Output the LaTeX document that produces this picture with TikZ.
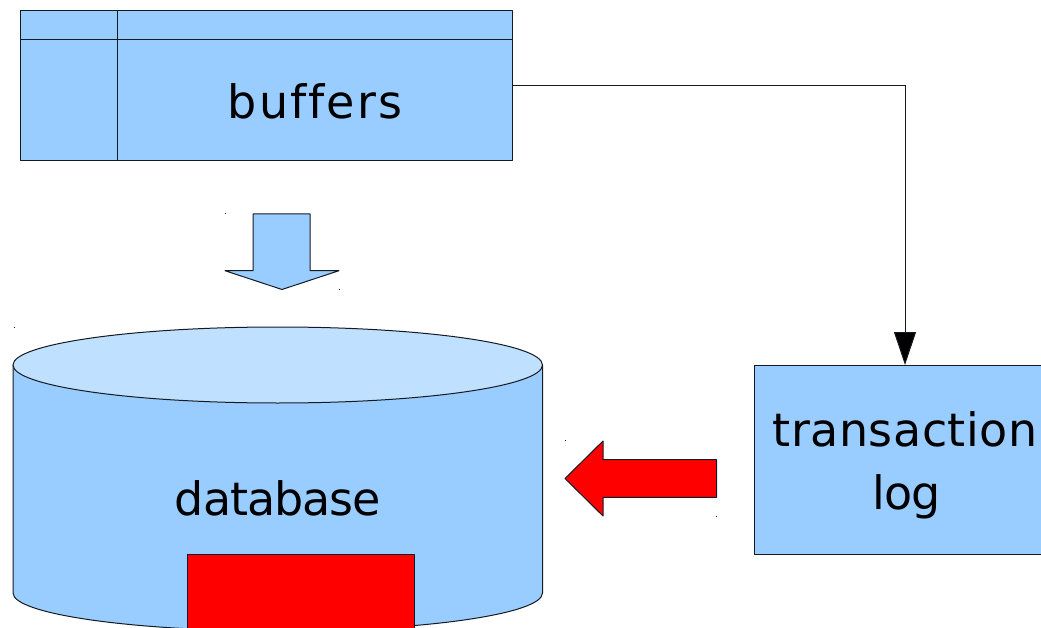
\documentclass[tikz,border=0pt]{standalone}
\usepackage{fontspec}
\setmainfont{DejaVu Sans}[Ligatures=NoCommon]
\usetikzlibrary{arrows.meta}
\definecolor{boxblue}{HTML}{99CCFF}
\definecolor{topblue}{HTML}{C0E0FF}
\definecolor{edge}{HTML}{141A22}
\tikzset{
  shapeline/.style={draw=edge,line width=1pt,line join=round},
  bluebox/.style={shapeline,fill=boxblue,rectangle,inner sep=0pt,outer sep=0pt},
  label text/.style={inner sep=0pt,outer sep=0pt,anchor=base,text=black,font=\fontsize{46}{60}\selectfont},
  speck/.style={fill=edge,inner sep=0pt,minimum size=1pt,rectangle},
}
\begin{document}
\begin{tikzpicture}[x=1pt,y=-1pt]
\clip (0,0) rectangle (1041,628);
\fill[white] (0,0) rectangle (1041,628);
% buffers table
\node[bluebox,minimum width=491.5pt,minimum height=150.5pt] (buf) at (266.25,85.7) {};
\coordinate (bufcolT) at (117,10.5);
\coordinate (bufcolB) at (117,161);
\coordinate (bufrowL) at (20.5,39.7);
\coordinate (bufrowR) at (512,39.7);
\draw[shapeline] (bufcolT) -- (bufcolB);
\draw[shapeline] (bufrowL) -- (bufrowR);
\node[label text] (buftext) at (315,118.5) {\addfontfeature{LetterSpace=4.4}buffers};
% down arrow
\draw[shapeline,fill=boxblue] (253,214) -- (310,214) -- (310,270.7) -- (339,270.7) -- (282,289.5) -- (225,270.7) -- (253,270.7) -- cycle;
% database cylinder
\draw[shapeline,fill=boxblue] (13,365) -- (13,593) arc[start angle=180,end angle=360,x radius=264.75,y radius=-38] -- (542.5,365) -- cycle;
\draw[shapeline,fill=topblue] (277.75,365) ellipse[x radius=264.75,y radius=38];
\node[label text] (dbtext) at (278,515) {\addfontfeature{LetterSpace=-2.2}database};
\node[shapeline,fill=red,inner sep=0pt,outer sep=0pt,minimum width=227pt,minimum height=100pt] (redbox) at (300.5,604) {};
% transaction log
\node[bluebox,minimum width=302pt,minimum height=189pt] (tlog) at (905,459.5) {};
\node[label text] (tltext) at (905,446) {\addfontfeature{LetterSpace=1.1}transaction};
\node[label text] (logtext) at (906.5,509) {\addfontfeature{LetterSpace=-2}log};
% red arrow
\draw[shapeline,fill=red] (565,478.5) -- (603,441) -- (603,459.7) -- (716.5,459.7) -- (716.5,497.3) -- (603,497.3) -- (603,516) -- cycle;
% connector
\draw[draw=edge,line width=1pt,-{Triangle[width=22pt,length=33pt,fill=black]}] (buf.east) -| (tlog.north);
% specks
\node[speck] (s1) at (225,213.5) {};
\node[speck] (s2) at (339,289.5) {};
\node[speck] (s3) at (14,327.5) {};
\node[speck] (s4) at (565,440.5) {};
\node[speck] (s5) at (716.5,516.5) {};
\end{tikzpicture}
\end{document}
